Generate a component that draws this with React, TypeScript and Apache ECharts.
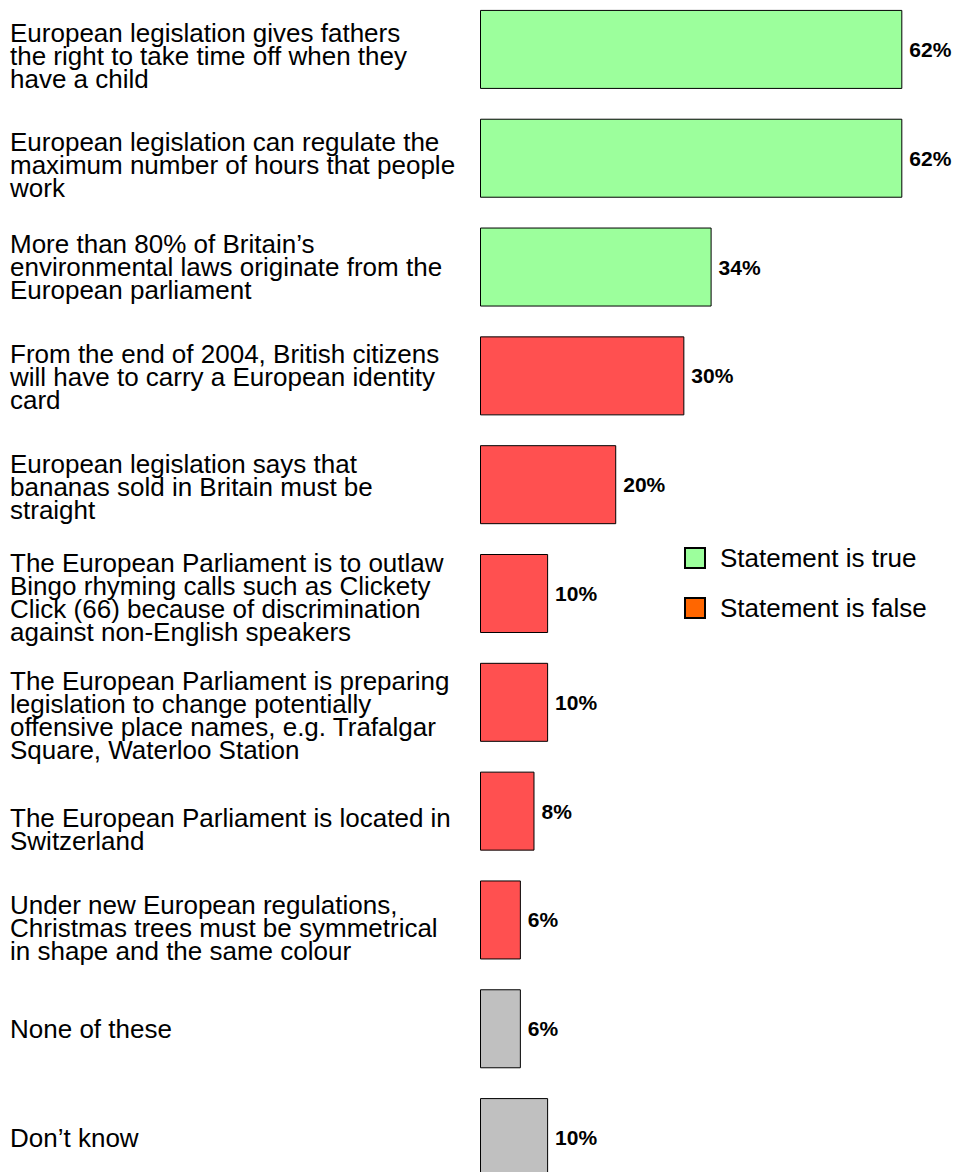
import React, { useEffect, useRef } from "react";
import * as echarts from "echarts";

const categories = [
  "European legislation gives fathers\nthe right to take time off when they\nhave a child",
  "European legislation can regulate the\nmaximum number of hours that people\nwork",
  "More than 80% of Britain\u2019s\nenvironmental laws originate from the\nEuropean parliament",
  "From the end of 2004, British citizens\nwill have to carry a European identity\ncard",
  "European legislation says that\nbananas sold in Britain must be\nstraight",
  "The European Parliament is to outlaw\nBingo rhyming calls such as Clickety\nClick (66) because of discrimination\nagainst non-English speakers",
  "The European Parliament is preparing\nlegislation to change potentially\noffensive place names, e.g. Trafalgar\nSquare, Waterloo Station",
  "The European Parliament is located in\nSwitzerland",
  "Under new European regulations,\nChristmas trees must be symmetrical\nin shape and the same colour",
  "None of these",
  "Don\u2019t know",
];

const values = [62, 62, 34, 30, 20, 10, 10, 8, 6, 6, 10];
const status = ["true", "true", "true", "false", "false", "false", "false", "false", "false", "none", "none"];
const legendNames = ["Statement is true", "Statement is false"];

// style constants
const barColors: Record<string, string> = { true: "#9CFF9C", false: "#FF5050", none: "#C0C0C0" };
const legendColors = ["#9CFF9C", "#FF6600"];
const labelNudge = [7, 7, 0, 1, 2, 4, 13, 18, 8, 0, 0];
const FONT = "'Liberation Sans', Arial, sans-serif";
const LABEL_SIZE = 26;
const LINE_H = 23;

export default function App() {
  const ref = useRef<HTMLDivElement>(null);
  useEffect(() => {
    if (!ref.current) return;
    const chart = echarts.init(ref.current, undefined, { renderer: "svg" });
    const base = { fontFamily: FONT, fontSize: LABEL_SIZE, lineHeight: LINE_H, color: "#000" };
    const rich: Record<string, any> = { b: { ...base } };
    labelNudge.forEach((n, i) => {
      if (n > 0) rich["s" + i] = { fontFamily: FONT, fontSize: 1, lineHeight: n * 2, height: n * 2 };
    });
    chart.setOption({
      animation: false,
      backgroundColor: "#ffffff",
      grid: { left: 480, right: 6, top: -5, bottom: -20, containLabel: false, outerBoundsMode: "none" },
      xAxis: {
        type: "value",
        min: 0,
        max: 69,
        show: false,
      },
      yAxis: {
        type: "category",
        inverse: true,
        data: categories,
        axisLine: { show: false },
        axisTick: { show: false },
        splitLine: { show: false },
        axisLabel: {
          ...base,
          align: "left",
          margin: 470,
          rich,
          formatter: (v: string, i: number) => {
            const lines = v.split("\n").map((l) => `{b|${l}}`);
            if (labelNudge[i] > 0) lines.unshift(`{s${i}| }`);
            return lines.join("\n");
          },
        },
      },
      legend: {
        orient: "vertical",
        left: 679,
        top: 540,
        itemWidth: 20,
        itemHeight: 20,
        itemGap: 24,
        icon: "rect",
        data: legendNames,
        selectedMode: false,
        textStyle: { fontFamily: FONT, fontSize: LABEL_SIZE, color: "#000", padding: [0, 0, 0, 10] },
      },
      series: [
        {
          name: "main",
          type: "bar",
          stack: "s",
          barWidth: 79,
          data: values.map((v, i) => ({
            value: v,
            itemStyle: { color: barColors[status[i]] },
          })),
          itemStyle: { borderColor: "#000", borderWidth: 1 },
          label: {
            show: true,
            position: "right",
            distance: 7,
            formatter: "{c}%",
            fontFamily: FONT,
            fontWeight: "bold",
            fontSize: 21,
            color: "#000",
          },
        },
        ...legendNames.map((n, i) => ({
          name: n,
          type: "bar",
          stack: "s",
          data: [],
          itemStyle: { color: legendColors[i], borderColor: "#000", borderWidth: 1 },
        })),
      ],
    });
    return () => chart.dispose();
  }, []);
  return (
    <div
      ref={ref}
      style={{ position: "fixed", left: 0, top: 0, width: 956, height: 1172 }}
    />
  );
}
